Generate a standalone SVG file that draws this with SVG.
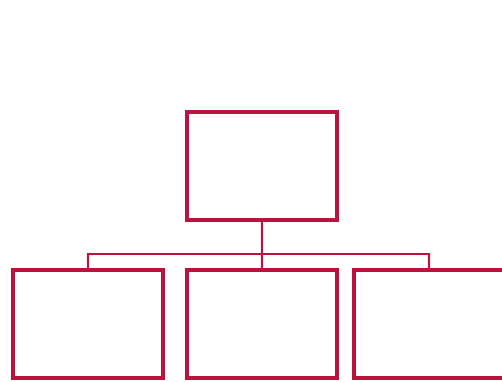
<svg xmlns="http://www.w3.org/2000/svg" width="502" height="382" viewBox="0 0 502 382">
<style>
.node{fill:#ffffff;stroke:#bb133e;stroke-width:4}
.conn{fill:none;stroke:#bb133e;stroke-width:2.2}
</style>
<rect width="502" height="382" fill="#ffffff"/>
<g id="connectors">
<path class="conn" d="M262 222 V254 M88 254 H429 M88 253 V268 M262 253 V268 M429 253 V268"/>
</g>
<g id="root"><rect class="node" x="187" y="112" width="150" height="108"/></g>
<g id="child1"><rect class="node" x="13" y="270" width="150" height="108"/></g>
<g id="child2"><rect class="node" x="187" y="270" width="150" height="108"/></g>
<g id="child3"><rect class="node" x="354" y="270" width="150" height="108"/></g>
</svg>
